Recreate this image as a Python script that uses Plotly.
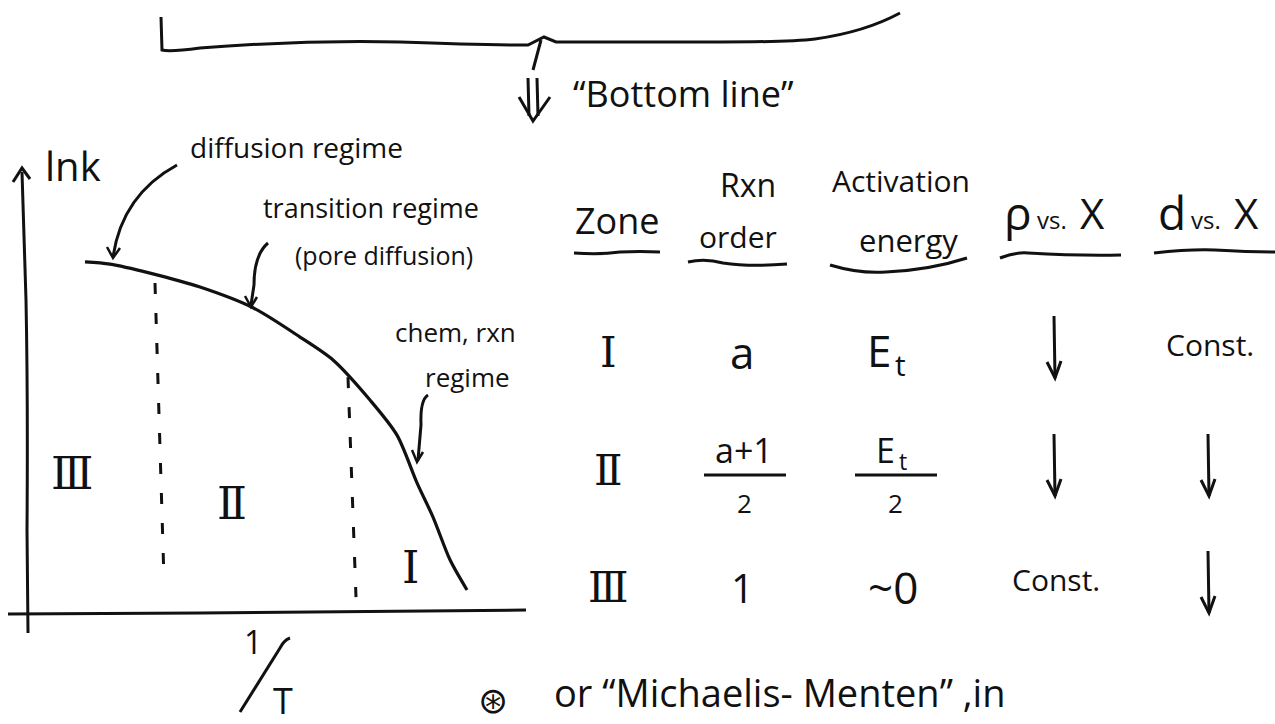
import plotly.graph_objects as go

W, H = 1275, 724
INK = "#111111"
HAND = "Open Sans, sans-serif"
ROMAN = "DejaVu Serif, serif"

# ---- ln k vs 1/T sketch (arbitrary units) ----
inv_T = [1.16, 1.66, 2.46, 3.46, 4.52, 5.46, 6.12, 6.86, 7.40, 7.80, 8.12, 8.46, 8.80]
ln_k = [7.78, 7.73, 7.53, 7.22, 6.76, 6.11, 5.60, 4.71, 3.93, 2.87, 2.11, 1.16, 0.49]

# dashed zone boundaries
boundary_x = [[2.56, 2.74], [6.42, 6.58]]
boundary_y = [[7.31, 0.71], [5.22, 0.33]]

# zone labels inside the sketch
zone_labels = ["Ⅲ", "Ⅱ", "Ⅰ"]
zone_label_x = [0.90, 4.10, 7.66]
zone_label_y = [3.07, 2.42, 1.00]

# ---- summary table ----
zones = ["Ⅰ", "Ⅱ", "Ⅲ"]
rxn_order = ["a", ("a+1", "2"), "1"]
activation_energy = ["Et", ("Et", "2"), "~0"]
rho_vs_X = ["↓", "↓", "Const."]
d_vs_X = ["Const.", "↓", "↓"]

# sketch frame in page pixels
SK_X0, SK_X1 = 27, 527      # 1/T = 0 .. 10
SK_Y0, SK_Y1 = 612, 162     # ln k = 0 .. 10

fig = go.Figure()

# curve and dashed boundaries on the sketch axes
fig.add_trace(go.Scatter(x=inv_T, y=ln_k, mode="lines", xaxis="x2", yaxis="y2",
                         line=dict(color=INK, width=3.2, shape="spline", smoothing=0.8),
                         hoverinfo="skip", showlegend=False))
for bx, by in zip(boundary_x, boundary_y):
    fig.add_trace(go.Scatter(x=bx, y=by, mode="lines", xaxis="x2", yaxis="y2",
                             line=dict(color=INK, width=3, dash="11px,19px"),
                             hoverinfo="skip", showlegend=False))

annotations = []
shapes = []


def txt(x, y, s, size, family=HAND, xref="x", yref="y", anchor="center"):
    annotations.append(dict(x=x, y=y, xref=xref, yref=yref, text=s, showarrow=False,
                            font=dict(size=size, family=family, color=INK),
                            xanchor=anchor, yanchor="middle"))


def stroke(path, width=3):
    shapes.append(dict(type="path", xref="x", yref="y", path=path,
                       line=dict(color=INK, width=width), layer="above"))


def down_arrow(cx, top, bottom):
    stroke(f"M{cx},{top} L{cx + 1},{bottom}")
    stroke(f"M{cx - 7},{bottom - 16} L{cx + 1},{bottom} L{cx + 7},{bottom - 17}")


def e_sub(cx, cy, size):
    # "E" with a subscript "t"
    txt(cx - 4, cy, "E", size, anchor="right")
    txt(cx - 4, cy + size * 0.32, "t", size * 0.68, anchor="left")


def vs_label(x_left, y, sym):
    txt(x_left, y, sym, 46, anchor="left")
    txt(x_left + 33, y + 7, "vs.", 24, anchor="left")
    txt(x_left + 76, y, "X", 42, anchor="left")


for lab, lx, ly in zip(zone_labels, zone_label_x, zone_label_y):
    txt(lx, ly, lab, 44, ROMAN, "x2", "y2")

# sketch axes
stroke("M28,633 L27,530 Q28,400 26,300 L22,172")
stroke("M13,182 L22,168 L30,179")
stroke("M8,614 L200,613 Q350,612 526,610")

# pointers to the curve
stroke("M177,165 Q122,195 113,257")
stroke("M107,247 L113,258 L120,248", 2.5)
stroke("M268,243 Q254,255 254,285 L251,305")
stroke("M245,296 L251,307 L257,297", 2.5)
stroke("M428,395 Q420,400 421,425 L418,460")
stroke("M412,450 L417,462 L423,452", 2.5)

# bracket across the top and the down arrow
stroke("M161,17 L162,50 Q170,52 200,48 Q300,40 400,42 Q480,45 528,45 L544,37 L556,42 "
       "Q650,42 720,42 Q790,42 815,39 Q865,32 900,13")
stroke("M541,40 L533,70")
stroke("M528,78 L529,116")
stroke("M537,78 L538,116")
stroke("M519,97 L533,121 L550,97")

# labels of the sketch
txt(683, 93, "“Bottom line”", 36)
txt(73, 165, "lnk", 40)
txt(296, 147, "diffusion regime", 28)
txt(371, 207, "transition regime", 27)
txt(384, 255, "(pore diffusion)", 25)
txt(455, 332, "chem, rxn", 26)
txt(467, 377, "regime", 26)
txt(253, 641, "1", 32)
stroke("M290,638 Q284,640 280,648 L240,712")
txt(283, 700, "T", 36)

# table header
txt(617, 220, "Zone", 36)
txt(748, 184, "Rxn", 32)
txt(738, 236, "order", 30)
txt(901, 180, "Activation", 30)
txt(908, 240, "energy", 31)
vs_label(1002, 212, "ρ")
vs_label(1156, 212, "d")
stroke("M574,253 Q600,255 620,252 Q640,251 660,252")
stroke("M688,262 Q705,258 723,263 Q750,267 787,264")
stroke("M830,265 Q860,274 886,272 Q930,270 967,258")
stroke("M1000,258 Q1015,252 1028,253 Q1080,256 1121,255")
stroke("M1154,253 Q1190,249 1215,250 Q1250,252 1275,252")

# table body
col_x = [608, 742, 893, 1056, 1210]
row_y = [352, 470, 587]
columns = [zones, rxn_order, activation_energy, rho_vs_X, d_vs_X]
for ci, col in enumerate(columns):
    for ri, val in enumerate(col):
        cx, cy = col_x[ci], row_y[ri]
        if isinstance(val, tuple):
            num, den = val
            if num == "Et":
                e_sub(cx + 8, cy - 20, 34)
            else:
                txt(cx + 2, cy - 20, num, 34)
            stroke(f"M{cx - 38},{cy + 5} L{cx + 44},{cy + 5}")
            txt(cx + 2, cy + 33, den, 26)
        elif val == "↓":
            down_arrow(cx - 2, cy - 36, cy + 26)
        elif ci == 0:
            txt(cx, cy, val, 42, ROMAN)
        elif val == "Const.":
            txt(cx, cy - 8, val, 30)
        elif val == "Et":
            e_sub(cx + 4, cy - 2, 44)
        elif val == "1":
            txt(cx, cy, val, 40)
        else:
            txt(cx, cy, val, 44)

# footnote line
txt(493, 700, "⊛", 36, "DejaVu Sans")
txt(780, 692, "or “Michaelis- Menten” ,in", 38)

fig.update_layout(
    width=W, height=H,
    margin=dict(l=0, r=0, t=0, b=0),
    paper_bgcolor="white", plot_bgcolor="white",
    showlegend=False,
    xaxis=dict(range=[0, W], domain=[0, 1], visible=False, fixedrange=True),
    yaxis=dict(range=[H, 0], domain=[0, 1], visible=False, fixedrange=True),
    xaxis2=dict(range=[0, 10], domain=[SK_X0 / W, SK_X1 / W], anchor="y2", visible=False),
    yaxis2=dict(range=[0, 10], domain=[1 - SK_Y0 / H, 1 - SK_Y1 / H], anchor="x2", visible=False),
    annotations=annotations,
    shapes=shapes,
)

fig.write_html("out.html")
